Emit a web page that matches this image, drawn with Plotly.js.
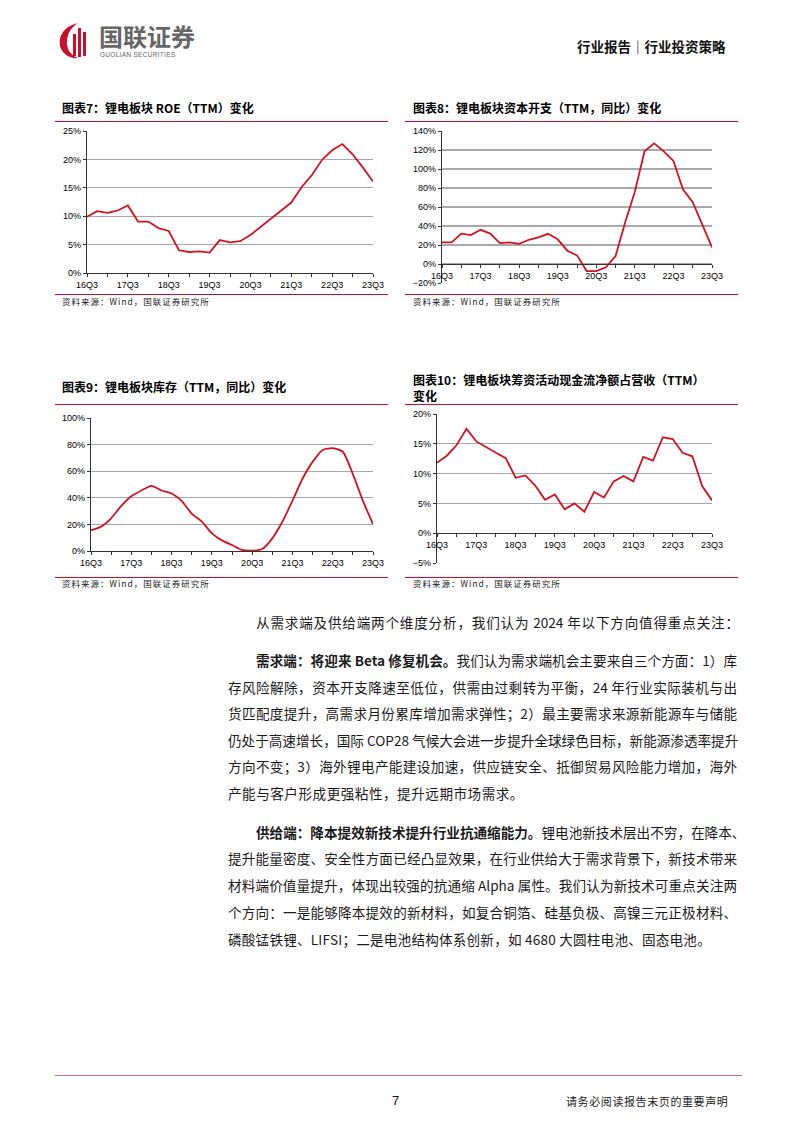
<!DOCTYPE html>
<html><head><meta charset="utf-8">
<script src="https://cdn.plot.ly/plotly-3.0.1.min.js"></script>
<style>
body{margin:0;background:#fff;}
#page{position:relative;width:794px;height:1123px;overflow:hidden;background:#fff;font-family:"Noto Sans CJK SC","Noto Sans",sans-serif;color:#111;}
.abs{position:absolute;white-space:nowrap;}
.title{font-size:12px;font-weight:bold;line-height:16px;color:#000;}
.src{font-size:8.5px;line-height:12px;letter-spacing:1px;color:#222;}
.rl{position:absolute;height:0;border-top:1.5px solid #c8102e;}
.line{position:absolute;left:228px;width:509px;font-size:13.6px;line-height:20px;color:#1a1a1a;white-space:nowrap;}
.j{text-align:justify;text-align-last:justify;}
.chart{position:absolute;}
</style></head>
<body><div id="page">

<!-- header -->
<svg class="abs" style="left:56px;top:20px" width="40" height="40" viewBox="0 0 40 40">
  <path d="M22 3 C8 6 2 16 4 26 C6 34 14 39 22 38 C14 35 10 28 11 20 C12 12 16 7 22 3 Z" fill="#c8102e"/>
  <rect x="17" y="14" width="3" height="22" fill="#c8102e"/>
  <rect x="22" y="8" width="3" height="29" fill="#c8102e"/>
  <rect x="27" y="12" width="3" height="24" fill="#c8102e"/>
</svg>
<div class="abs" style="left:99px;top:23px;font-size:24px;line-height:25px;color:#666;font-weight:bold;">国联证券</div>
<div class="abs" style="left:100px;top:51px;font-size:6.5px;line-height:8px;color:#666;font-family:'Liberation Sans',sans-serif;letter-spacing:0.3px;">GUOLIAN SECURITIES</div>
<div class="abs" style="left:577px;top:37px;font-size:13.5px;line-height:18px;font-weight:bold;color:#111;">行业报告｜行业投资策略</div>

<!-- chart titles & frames -->
<div class="abs title" style="left:62px;top:100px;">图表7：锂电板块 ROE（TTM）变化</div>
<div class="rl" style="left:55px;width:333px;top:121px;"></div>
<div class="rl" style="left:55px;width:333px;top:294px;"></div>
<div class="abs src" style="left:62px;top:295px;">资料来源：Wind，国联证券研究所</div>

<div class="abs title" style="left:413px;top:100px;">图表8：锂电板块资本开支（TTM，同比）变化</div>
<div class="rl" style="left:405px;width:333px;top:121px;"></div>
<div class="rl" style="left:405px;width:333px;top:294px;"></div>
<div class="abs src" style="left:413px;top:295px;">资料来源：Wind，国联证券研究所</div>

<div class="abs title" style="left:62px;top:379px;">图表9：锂电板块库存（TTM，同比）变化</div>
<div class="rl" style="left:55px;width:333px;top:404px;"></div>
<div class="rl" style="left:55px;width:333px;top:577px;"></div>
<div class="abs src" style="left:62px;top:577px;">资料来源：Wind，国联证券研究所</div>

<div class="abs title" style="left:413px;top:372px;">图表10：锂电板块筹资活动现金流净额占营收（TTM）</div>
<div class="abs title" style="left:413px;top:388px;">变化</div>
<div class="rl" style="left:405px;width:333px;top:404px;"></div>
<div class="rl" style="left:405px;width:333px;top:577px;"></div>
<div class="abs src" style="left:413px;top:577px;">资料来源：Wind，国联证券研究所</div>

<div id="c1" class="chart"></div>
<div id="c2" class="chart"></div>
<div id="c3" class="chart"></div>
<div id="c4" class="chart"></div>

<!-- body text -->
<div class="line j" style="top:612px;left:256px;width:483px;">从需求端及供给端两个维度分析，我们认为 2024 年以下方向值得重点关注：</div>
<div class="line j" style="top:650px;left:256px;width:481px;"><b>需求端：将迎来 Beta 修复机会。</b>我们认为需求端机会主要来自三个方面：1）库</div>
<div class="line j" style="top:677px;">存风险解除，资本开支降速至低位，供需由过剩转为平衡，24 年行业实际装机与出</div>
<div class="line j" style="top:703px;">货匹配度提升，高需求月份累库增加需求弹性；2）最主要需求来源新能源车与储能</div>
<div class="line j" style="top:730px;">仍处于高速增长，国际 COP28 气候大会进一步提升全球绿色目标，新能源渗透率提升</div>
<div class="line j" style="top:756px;">方向不变；3）海外锂电产能建设加速，供应链安全、抵御贸易风险能力增加，海外</div>
<div class="line" style="top:783px;letter-spacing:0.5px;">产能与客户形成更强粘性，提升远期市场需求。</div>
<div class="line j" style="top:822px;left:256px;width:481px;"><b>供给端：降本提效新技术提升行业抗通缩能力。</b>锂电池新技术层出不穷，在降本、</div>
<div class="line j" style="top:848px;">提升能量密度、安全性方面已经凸显效果，在行业供给大于需求背景下，新技术带来</div>
<div class="line j" style="top:875px;">材料端价值量提升，体现出较强的抗通缩 Alpha 属性。我们认为新技术可重点关注两</div>
<div class="line j" style="top:902px;">个方向：一是能够降本提效的新材料，如复合铜箔、硅基负极、高镍三元正极材料、</div>
<div class="line" style="top:929px;letter-spacing:0.2px;">磷酸锰铁锂、LIFSI；二是电池结构体系创新，如 4680 大圆柱电池、固态电池。</div>

<!-- footer -->
<div class="abs" style="left:55px;width:687px;top:1075px;height:0;border-top:1.5px solid #d66a72;"></div>
<div class="abs" style="left:392px;top:1092px;font-size:13px;line-height:18px;font-family:'Liberation Sans',sans-serif;">7</div>
<div class="abs" style="left:566px;top:1093px;font-size:11px;line-height:16px;letter-spacing:0.6px;color:#222;">请务必阅读报告末页的重要声明</div>

</div>
<script>
// ---- data ----
const quarters = ['16Q3','16Q4','17Q1','17Q2','17Q3','17Q4','18Q1','18Q2','18Q3','18Q4',
  '19Q1','19Q2','19Q3','19Q4','20Q1','20Q2','20Q3','20Q4','21Q1','21Q2','21Q3','21Q4',
  '22Q1','22Q2','22Q3','22Q4','23Q1','23Q2','23Q3'];
const roe = [9.9,10.9,10.6,11.0,11.9,9.05,9.05,7.9,7.4,4.0,3.7,3.8,3.6,5.8,5.4,5.6,6.7,8.1,
  9.5,10.9,12.4,15.1,17.2,19.9,21.6,22.7,20.9,18.6,16.1];
const capex = [22.7,22.7,32,30.5,36,32,22,22.7,21.3,25.5,28,31.8,26,14,9.1,-7.4,-7.4,-3.5,
  8.4,44,76,118.6,127,118.6,108.5,78.4,65,42,17.5];
const inventory = [15.6,18.3,24.6,33.9,41.2,45.5,49,45.5,43.2,37.7,28.1,22.1,13.3,8,4.5,0.8,
  0.3,1.5,9.5,22,37.7,54.3,67,76,77.4,74.6,57.8,37.7,20.1];
const financing = [11.8,13.0,14.8,17.5,15.4,14.4,13.5,12.6,9.3,9.7,8.0,5.6,6.5,4.0,5.0,3.6,
  6.9,6.0,8.7,9.6,8.7,12.8,12.2,16.1,15.8,13.5,12.9,7.9,5.5];

// ---- drawing ----
const RED = '#cf1422';
const tickVals = quarters.filter((q,i)=>i%2===0);
const tickText = quarters.map((q,i)=> i%4===0 ? q : '').filter((q,i)=>i%2===0);

function makeChart(id, box, values, yr, dtick, smooth){
  const L=50,R=30,T=10,B=26;
  const el=document.getElementById(id);
  const w=(box.x1-box.x0)+L+R, h=(box.y1-box.y0)+T+B;
  el.style.left=(box.x0-L)+'px'; el.style.top=(box.y0-T)+'px';
  el.style.width=w+'px'; el.style.height=h+'px';
  const zeroFrac = (0-yr[0])/(yr[1]-yr[0]);
  const xaxis = {
    type:'category', range:[0,quarters.length-1], showgrid:false, zeroline:false,
    showline:true, linecolor:'#333', linewidth:1.2,
    tickmode:'array', tickvals:tickVals, ticktext:tickText,
    ticks:'outside', ticklen:3, tickcolor:'#333', tickwidth:1,
    tickfont:{family:'Liberation Sans, Arial, sans-serif', size:9, color:'#000'},
    fixedrange:true
  };
  if(yr[0] < 0){ xaxis.anchor='free'; xaxis.position=zeroFrac; }
  const layout = {
    width:w, height:h, margin:{l:L,r:R,t:T,b:B},
    paper_bgcolor:'rgba(0,0,0,0)', plot_bgcolor:'rgba(0,0,0,0)',
    showlegend:false, xaxis:xaxis,
    yaxis:{range:yr, dtick:dtick, tick0:0, ticksuffix:'%', showgrid:true, gridcolor:'#a9a9a9', gridwidth:1.3,
      zeroline:false, showline:true, linecolor:'#333', linewidth:1.2, ticks:'outside', ticklen:3, tickcolor:'#333',
      tickfont:{family:'Liberation Sans, Arial, sans-serif', size:9, color:'#000'}, fixedrange:true}
  };
  const trace = {x:quarters, y:values, type:'scatter', mode:'lines',
    line:{color:RED, width:1.8, shape: smooth?'spline':'linear', smoothing:0.6}, cliponaxis:false};
  Plotly.newPlot(el,[trace],layout,{staticPlot:true,displayModeBar:false});
}

makeChart('c1',{x0:87,x1:373,y0:131,y1:273},roe,[0,25],5,false);
makeChart('c2',{x0:442,x1:712,y0:131,y1:283},capex,[-20,140],20,false);
makeChart('c3',{x0:91,x1:373,y0:418,y1:551},inventory,[0,100],20,true);
makeChart('c4',{x0:437,x1:712,y0:414,y1:563},financing,[-5,20],5,false);
</script>
</body></html>
